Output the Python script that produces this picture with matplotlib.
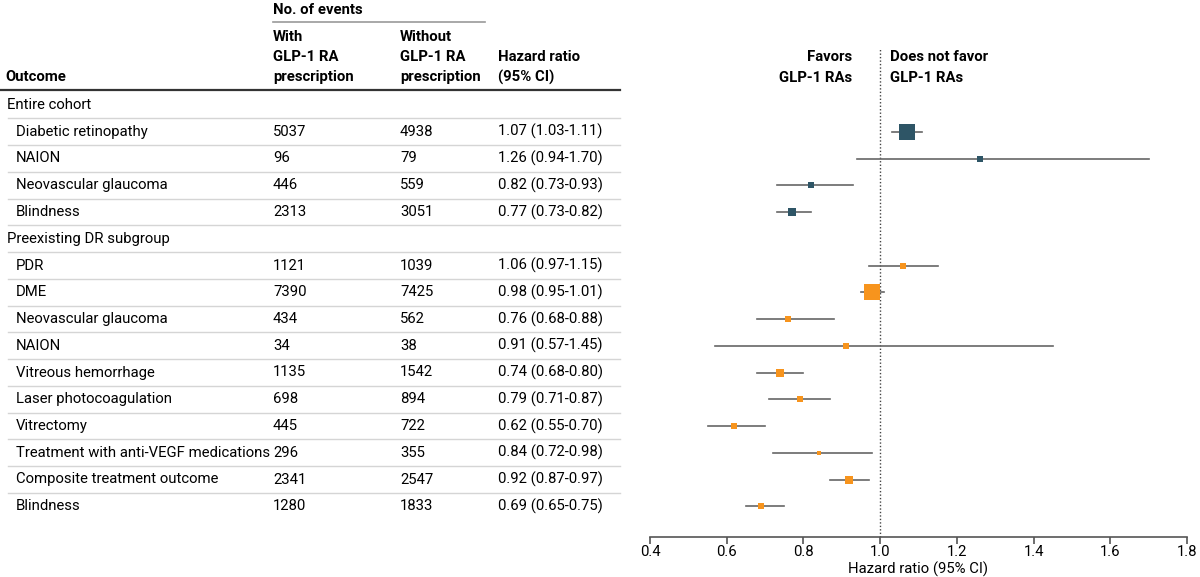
import numpy as np
import matplotlib
matplotlib.use('Agg')
import matplotlib.pyplot as plt

plt.rcParams['font.family'] = ['Roboto', 'DejaVu Sans']

# 数据
groups = ['Entire cohort', 'Preexisting DR subgroup']
outcomes = [
    ['Diabetic retinopathy', 'NAION', 'Neovascular glaucoma', 'Blindness'],
    ['PDR', 'DME', 'Neovascular glaucoma', 'NAION', 'Vitreous hemorrhage',
     'Laser photocoagulation', 'Vitrectomy', 'Treatment with anti-VEGF medications',
     'Composite treatment outcome', 'Blindness'],
]
events_with = [[5037, 96, 446, 2313],
               [1121, 7390, 434, 34, 1135, 698, 445, 296, 2341, 1280]]
events_without = [[4938, 79, 559, 3051],
                  [1039, 7425, 562, 38, 1542, 894, 722, 355, 2547, 1833]]
hr = [[1.07, 1.26, 0.82, 0.77],
      [1.06, 0.98, 0.76, 0.91, 0.74, 0.79, 0.62, 0.84, 0.92, 0.69]]
ci_lo = [[1.03, 0.94, 0.73, 0.73],
         [0.97, 0.95, 0.68, 0.57, 0.68, 0.71, 0.55, 0.72, 0.87, 0.65]]
ci_hi = [[1.11, 1.70, 0.93, 0.82],
         [1.15, 1.01, 0.88, 1.45, 0.80, 0.87, 0.70, 0.98, 0.97, 0.75]]
# 方块面积（相对权重，从图上估计）
weight = [[94, 10, 14, 25],
          [19, 106, 14, 12, 25, 14, 14, 8, 28, 19]]
xticks = [0.4, 0.6, 0.8, 1.0, 1.2, 1.4, 1.6, 1.8]

colors = ['#2e5566', '#f7941d']
fs = 10.7
fh = 10.7

fig = plt.figure(figsize=(12, 5.77), dpi=100)
W, H = 1200, 577
tab = fig.add_axes([0, 0, 1, 1])
tab.set_xlim(0, W)
tab.set_ylim(H, 0)
tab.axis('off')

# forest axes, y in figure pixels
ax_l, ax_r, ax_b, ax_t = 650, 1187, 537, 40
ax = fig.add_axes([ax_l / W, 1 - ax_b / H, (ax_r - ax_l) / W, (ax_b - ax_t) / H])
ax.set_xlim(0.4, 1.8)
ax.set_ylim(ax_b, ax_t)
ax.patch.set_alpha(0)
for s in ['top', 'right', 'left']:
    ax.spines[s].set_visible(False)
ax.spines['bottom'].set_color('#555555')
ax.spines['bottom'].set_linewidth(1.2)
ax.set_yticks([])
ax.set_xticks(xticks)
ax.set_xticklabels(['%.1f' % t for t in xticks], fontsize=fs)
ax.tick_params(axis='x', direction='out', length=5, width=1.2, color='#555555', pad=1)
ax.set_xlabel('Hazard ratio (95% CI)', fontsize=fs, labelpad=2)
ax.axvline(1.0, ymin=0, ymax=(ax_b - 48) / (ax_b - ax_t), color='#444444', lw=1, ls=(0, (1, 1.5)))

# header
cx = [5, 273, 400, 498]
hb = dict(fontsize=fh, fontweight='bold', va='center')
tab.text(cx[1], 10, 'No. of events', **hb)
tab.plot([cx[1], 485], [22, 22], color='#999999', lw=1.2)
for i, t in enumerate(['With', 'GLP-1 RA', 'prescription']):
    tab.text(cx[1], 37 + i * 20, t, **hb)
for i, t in enumerate(['Without', 'GLP-1 RA', 'prescription']):
    tab.text(cx[2], 37 + i * 20, t, **hb)
tab.text(cx[3], 57, 'Hazard ratio', **hb)
tab.text(cx[3], 77, '(95% CI)', **hb)
tab.text(cx[0], 77, 'Outcome', **hb)
tab.plot([0, 620], [90, 90], color='#333333', lw=1.6)

tab.text(852, 57, 'Favors', ha='right', **hb)
tab.text(852, 78, 'GLP-1 RAs', ha='right', **hb)
tab.text(890, 57, 'Does not favor', ha='left', **hb)
tab.text(890, 78, 'GLP-1 RAs', ha='left', **hb)

y = 105
step = 26.75
for g in range(len(groups)):
    if g > 0:
        tab.plot([8, 620], [y - step / 2, y - step / 2], color='#d5d5d5', lw=1)
    tab.text(7, y, groups[g], fontsize=fs, va='center')
    y += step
    for k in range(len(outcomes[g])):
        tab.plot([8, 620], [y - step / 2, y - step / 2], color='#d5d5d5', lw=1)
        tab.text(16, y, outcomes[g][k], fontsize=fs, va='center')
        tab.text(cx[1], y, str(events_with[g][k]), fontsize=fs, va='center')
        tab.text(cx[2], y, str(events_without[g][k]), fontsize=fs, va='center')
        tab.text(cx[3], y, '%.2f (%.2f-%.2f)' % (hr[g][k], ci_lo[g][k], ci_hi[g][k]),
                 fontsize=fs, va='center')
        ax.plot([ci_lo[g][k], ci_hi[g][k]], [y, y], color='#666666', lw=1.2, zorder=2)
        side = 16 * np.sqrt(weight[g][k] / 100)
        ax.plot(hr[g][k], y, marker='s', ms=side * 0.72, color=colors[g],
                mec=colors[g], mew=0, zorder=3)
        y += step

fig.savefig('out.png', dpi=100)
